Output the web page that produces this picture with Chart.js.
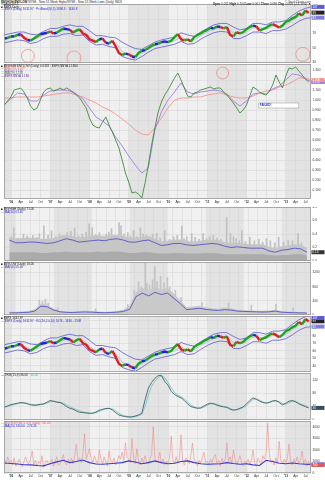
<!DOCTYPE html>
<html><head><meta charset="utf-8">
<script src="https://cdn.jsdelivr.net/npm/chart.js@4.4.1/dist/chart.umd.min.js"></script>
<style>
html,body{margin:0;padding:0;background:#fff;}
body{position:relative;width:325px;height:480px;overflow:hidden;font-family:"Liberation Sans",Arial,sans-serif;}
canvas{position:absolute;left:0;}
.t{position:absolute;font-size:3px;line-height:3px;white-space:nowrap;color:#222;z-index:5;}
.b{color:#2b2bd0}
</style></head><body>
<canvas id="c1" width="325" height="59" style="top:4px"></canvas>
<canvas id="c2" width="325" height="142" style="top:64px"></canvas>
<canvas id="c3" width="325" height="54" style="top:207px"></canvas>
<canvas id="c4" width="325" height="53" style="top:262px"></canvas>
<canvas id="c5" width="325" height="56" style="top:316px"></canvas>
<canvas id="c6" width="325" height="47" style="top:373px"></canvas>
<canvas id="c7" width="325" height="59" style="top:421px"></canvas>

<div class="t" style="left:1px;top:0.5px"><b>$NYHGH:$NYLOW</b> NYSE - New 52-Week Highs/NYSE - New 52-Week Lows (Daily) INDX</div>
<div class="t" style="left:1px;top:3.2px">30-Aug-2013</div>
<div class="t" style="left:1px;top:5.7px">■ $SPX Daily</div>
<div class="t b" style="left:1px;top:8.2px">— $SPX (Daily) 1632.97 · PctBand(50,5) 1698.3 · 1630.8</div>
<div class="t" style="right:14px;top:0.5px;color:#555">© StockCharts.com</div>
<div class="t" style="right:14px;top:3.4px"><b>Open</b> 0.021 <b>High</b> 0.104 <b>Low</b> 0.001 <b>Close</b> 0.036 <b>Chg</b> -0.005 (-14.13%) ▼</div>

<div class="t" style="left:1px;top:64.5px">■ $NYHGH:$NYLOW (Daily) 0.0328 · $SPX:$NYA 1.1800</div>
<div class="t" style="left:1px;top:67px;color:#e8776f">— MA(200) 1.200</div>
<div class="t" style="left:1px;top:69.5px;color:#9b6ce0">— MA(50) 1.180</div>
<div class="t" style="left:1px;top:72px;color:#3c8f3c">— MA(20) 1.180</div>
<div class="t" style="left:1px;top:74.5px;color:#5a2a9a">— $SPX:$NYA 1.180</div>

<div class="t" style="left:1px;top:208px">■ $NYHGH (Daily) 71.00</div>
<div class="t b" style="left:1px;top:210.5px">— MA(50) 0.130</div>
<div class="t" style="left:1px;top:263px">■ $NYLOW (Daily) 18.00</div>
<div class="t b" style="left:1px;top:265.5px">— MA(50) 55.00</div>
<div class="t" style="left:1px;top:317px">■ $SPX 1632.97</div>
<div class="t b" style="left:1px;top:319.5px">— $SPX (Daily) 1632.97 · KC(20,2.0,10) 1674 - 1636 - 1598</div>
<div class="t" style="left:1px;top:374px">— TRIX(15,9) 36.00 <span style="color:#3fb3a8">· 38.00</span></div>
<div class="t" style="left:1px;top:422px;color:#e06060">— $NYHGH:$NYLOW (Daily) 700.00</div>
<div class="t b" style="left:1px;top:424.5px">— MA(20) 740.00 · 276.33</div>

<script>
// ---------- DATA ----------
const START = 2005.83;           // Nov 2005
const tickYears = [2006,2007,2008,2009,2010,2011,2012,2013];
const yearLabels = ["'06","'07","'08","'09","'10","'11","'12","'13"];
const quarterLabels = ['Apr','Jul','Oct'];
const shadedYears = [2005,2007,2009,2011,2013];

// monthly closes (Nov 2005 .. Aug 2013)
const price = [63,64,66,66,68,69,64,61,60,63,
  66,69,70,71,73,70,71,74,77,76,
  75,71,74,76,70,68,62,60,58,62,
  63,57,56,60,52,43,40,42,41,38,
  37,43,46,47,50,53,55,56,58,59,
  58,60,65,69,62,60,62,59,65,68,
  70,73,75,78,77,80,79,77,79,68,
  66,72,70,72,76,79,81,80,74,76,
  78,81,83,81,78,81,86,88,91,93,
  98,95,102,99];
// bi-monthly price bands
const bandUpper = [68,70,72,72,69,68,73,77,77,80,82,80,80,74,67,67,65,64,58,53,49,48,53,58,61,63,65,71,68,66,72,77,82,84,84,79,75,77,84,84,82,86,86,88,95,101,105,107];
const bandMid   = [62,64,66,66,62,63,68,71,71,74,76,73,74,66,60,61,58,57,45,41,39,43,48,53,56,58,60,65,61,61,67,72,76,78,78,71,69,72,78,78,76,80,80,82,88,94,98,99];
const bandLower = [57,59,61,60,56,58,63,66,66,69,70,67,68,59,54,55,52,50,38,35,33,38,44,49,51,53,55,59,55,56,62,67,71,73,72,63,63,67,72,72,70,74,74,76,81,87,91,92];

// relative strength panel (monthly green, bi-monthly averages)
const rsGreen = [0.95,0.99,1.03,1.10,1.11,1.12,1.08,1.02,0.94,0.90,
  0.92,1.00,1.08,1.11,1.12,1.09,1.10,1.12,1.10,1.12,
  1.10,1.08,1.05,1.02,0.97,0.92,0.82,0.75,0.73,0.72,
  0.78,0.83,0.75,0.68,0.60,0.52,0.40,0.27,0.18,0.07,
  0.08,0.06,0.02,0.17,0.35,0.55,0.72,0.88,0.98,1.05,
  1.10,1.16,1.22,1.27,1.20,1.12,1.04,1.03,1.07,1.08,
  1.10,1.11,1.12,1.13,1.11,1.12,1.12,1.08,1.05,1.01,
  0.97,0.92,0.87,0.90,0.95,1.04,1.13,1.11,1.08,1.06,
  1.05,1.09,1.15,1.25,1.18,1.12,1.24,1.32,1.31,1.33,
  1.29,1.25,1.21,1.18];
const rsPurple = [0.96,1.01,1.07,1.06,0.99,0.99,1.05,1.09,1.10,1.10,
  1.09,1.06,1.01,0.92,0.83,0.79,0.74,0.63,0.54,0.44,
  0.35,0.27,0.32,0.70,0.88,1.00,1.08,1.17,1.08,1.06,
  1.08,1.09,1.10,1.09,1.06,0.99,0.94,0.99,1.06,1.07,
  1.06,1.11,1.14,1.20,1.26,1.25,1.21,1.18];
const rsSalmon = [1.02,1.02,1.03,1.03,1.03,1.03,1.04,1.05,1.06,1.07,
  1.07,1.05,1.03,1.00,0.97,0.93,0.90,0.86,0.81,0.76,
  0.70,0.66,0.65,0.72,0.82,0.92,1.00,1.02,1.02,1.03,
  1.03,1.05,1.06,1.07,1.05,1.03,1.02,1.02,1.04,1.07,
  1.09,1.10,1.13,1.15,1.18,1.22,1.22,1.20];

// new highs panel (bi-monthly)
const hiTop   = [0.36,0.33,0.34,0.35,0.34,0.33,0.33,0.34,0.37,0.39,0.37,0.35,0.36,0.37,0.38,0.37,0.38,0.39,0.37,0.35,0.35,0.36,0.37,0.33,0.29,0.30,0.32,0.32,0.30,0.29,0.30,0.31,0.32,0.31,0.28,0.26,0.27,0.26,0.25,0.25,0.25,0.21,0.19,0.22,0.23,0.25,0.24,0.19];
const hiFloor = [0.13,0.13,0.13,0.13,0.13,0.12,0.12,0.13,0.13,0.14,0.13,0.13,0.13,0.13,0.14,0.13,0.14,0.14,0.13,0.12,0.12,0.13,0.13,0.12,0.11,0.11,0.12,0.12,0.11,0.11,0.11,0.12,0.12,0.11,0.10,0.10,0.10,0.10,0.10,0.10,0.10,0.09,0.08,0.09,0.09,0.10,0.10,0.08];
const hiAvg   = [0.31,0.27,0.27,0.28,0.28,0.27,0.26,0.27,0.30,0.33,0.31,0.28,0.29,0.30,0.31,0.30,0.32,0.33,0.31,0.28,0.28,0.30,0.31,0.27,0.23,0.24,0.26,0.26,0.24,0.23,0.24,0.25,0.26,0.25,0.22,0.20,0.21,0.20,0.19,0.19,0.19,0.15,0.13,0.16,0.17,0.19,0.18,0.13];
const hiSpikeDates = [2005.88,2005.95,2006.05,2006.2,2006.3,2006.45,2006.55,2006.62,2006.74,2006.85,2006.94,
  2007.05,2007.15,2007.25,2007.35,2007.45,2007.55,2007.65,2007.75,2007.85,2007.93,
  2008.01,2008.1,2008.2,2008.28,2008.38,2008.45,2008.52,2008.6,2008.72,2008.77,2008.85,2008.95,
  2009.02,2009.1,2009.18,2009.28,2009.35,2009.43,2009.52,2009.6,2009.71,2009.8,2009.92,
  2010.05,2010.15,2010.25,2010.37,2010.43,2010.5,2010.63,2010.72,2010.82,2010.93,
  2011.02,2011.1,2011.2,2011.3,2011.4,2011.55,2011.65,2011.73,2011.8,2011.88,2011.95,
  2012.05,2012.16,2012.28,2012.4,2012.5,2012.6,2012.7,2012.82,2012.92,
  2013.05,2013.17,2013.28,2013.43,2013.52];
const hiSpikeVals  = [0.36,0.49,0.34,0.40,0.37,0.38,0.35,0.40,0.52,0.38,0.45,
  0.36,0.40,0.38,0.42,0.44,0.49,0.37,0.40,0.43,0.55,
  0.49,0.39,0.42,0.36,0.40,0.43,0.48,0.38,0.57,0.52,0.40,0.42,
  0.37,0.45,0.36,0.49,0.40,0.38,0.35,0.40,0.41,0.34,0.45,
  0.32,0.36,0.38,0.52,0.33,0.36,0.41,0.35,0.32,0.41,
  0.33,0.36,0.38,0.34,0.32,0.65,0.41,0.36,0.33,0.30,0.45,
  0.29,0.35,0.30,0.32,0.28,0.33,0.30,0.27,0.35,
  0.28,0.31,0.30,0.41,0.27];

// new lows panel (bi-monthly)
const loTop = [90,90,100,110,160,320,280,180,120,100,100,110,120,110,100,90,100,110,150,260,650,760,700,780,720,760,600,420,220,240,260,220,190,180,210,190,150,140,130,120,120,130,150,110,100,90,85,80];
const loAvg = [60,60,70,75,110,250,230,140,90,75,70,80,85,80,70,65,70,80,100,160,520,620,540,640,580,620,470,320,150,170,190,160,140,130,150,140,110,100,95,90,85,90,110,80,70,65,60,55];
const loSpikeDates = [2006.62,2006.7,2006.78,2006.85,2007.1,2008.1,2008.95,2009.12,2009.23,2009.3,2009.41,2009.45,2009.52,2009.6,2009.66,2009.72,2009.81,2009.9,2009.99,2010.05,2010.2,2010.35,2010.9,2011.6,2012.2,2012.85,2013.3];
const loSpikeVals  = [420,380,450,330,200,180,300,700,940,800,1490,900,850,1000,1370,950,1090,900,1060,800,700,500,350,330,280,300,200];

// oscillator (monthly)
const oscA = [38,42,46,48,50,52,51,48,45,44,
  45,47,48,53,58,56,53,52,47,40,
  35,32,27,23,22,21,20,20,24,29,
  32,34,35,30,22,15,12,10,9,9,
  12,15,20,60,95,112,124,132,133,115,
  104,85,76,70,66,58,48,40,37,35,
  36,42,47,50,48,44,41,39,38,32,
  29,31,35,39,48,58,66,62,56,52,
  50,53,57,58,52,45,50,56,58,54,
  48,44,40,36];
const oscB = [40,40,43,46,48,50,51,50,47,45,
  44,45,47,50,54,56,55,53,50,45,
  39,35,31,27,24,22,21,20,22,26,
  30,33,34,33,27,20,15,12,10,9,
  10,13,16,40,75,100,116,126,131,126,
  112,96,82,74,69,63,54,45,39,36,
  35,38,44,48,49,46,43,40,38,35,
  31,30,33,37,43,52,61,63,59,54,
  51,51,55,57,55,49,47,52,56,56,
  51,46,42,38];

// highs/lows ratio (semi-monthly) and its average (bi-monthly)
const ratioVals = [1200,800,1400,900,
  1100,700,1300,600,900,1200,800,500,1000,1400,900,800,1200,1900,700,1100,600,1000,800,1500,500,900,1100,700,
  900,1200,600,1000,1400,700,800,1100,1600,900,700,1200,1000,1300,800,1500,2500,1100,1300,900,1700,3400,1200,1600,
  2100,1300,900,1500,1100,700,2000,1200,800,1400,1000,600,1900,1100,900,1300,700,1000,1500,1200,1800,1100,2600,1400,
  1200,900,3000,1300,800,2100,1100,700,1300,900,1500,1000,800,1200,1600,4000,1300,900,1100,1800,800,1200,700,1000,
  900,1300,3200,1100,800,1400,900,1200,3300,1000,700,1300,1100,800,1500,2600,1200,900,600,1100,800,1300,1800,900,
  1000,700,1200,900,1400,1600,800,1100,600,1300,900,1200,2600,1000,1400,800,2000,1200,700,1100,1500,900,600,1000,
  800,1200,700,1100,2000,900,600,1300,1000,700,1500,1200,1800,4300,1500,900,1100,700,1300,900,2750,1100,800,1200,
  900,1300,2500,1000,700,1200,900,1400,800,1100,1900,800,1200,600,1000,700];
const ratioAvg = [860,820,780,720,700,650,620,800,960,1100,900,1000,1120,900,780,760,800,850,900,1050,950,800,900,1050,900,800,850,1000,1050,900,800,760,780,800,900,820,760,800,700,650,1100,1000,850,800,860,800,760,740];

// annotations (in data coordinates)
const priceCircles = [{x:2006.43,y:38.8,r:6.5},{x:2007.6,y:36,r:7},{x:2013.43,y:41,r:7}];
const rsCircles = [{x:2011.39,y:1.27,r:6}];
const rsNote = {x0:2012.31,x1:2013.33,y0:0.97,y1:0.92,text:'FAILED!'};

// ---------- HELPERS ----------
const FONT = "'Liberation Sans', Arial, sans-serif";
const X_MIN = 2005.82, X_MAX = 2013.64;
const M = 1/12, BM = 1/6, SM = 1/24;
const series = (arr, step) => arr.map((v,i)=>({x:START+i*step, y:v}));
const pairs = (d, v) => d.map((x,i)=>({x, y:v[i]}));
const isYear = v => Math.abs(v - Math.round(v)) < 0.01;

function xScale(show){
  return {type:'linear', min:X_MIN, max:X_MAX,
    afterBuildTicks(s){ const t=[]; tickYears.forEach(y=>{ for(let q=0;q<4;q++){ const v=y+q*0.25; if(v>=X_MIN&&v<=X_MAX) t.push({value:v}); } }); s.ticks=t; },
    ticks:{display:show, autoSkip:false, maxRotation:0, minRotation:0, padding:1.5, color:'#333',
      font:c=>({size:3.2, family:FONT, weight:(c.tick&&isYear(c.tick.value))?'bold':'normal'}),
      callback:v=> isYear(v) ? yearLabels[Math.round(v)-2006] : quarterLabels[Math.round((v-Math.floor(v))*4)-1]},
    grid:{color:'#d4d4d4', lineWidth:0.5, drawTicks:false}, border:{display:false},
    afterFit(s){ s.height = show?7:0; s.paddingLeft=0; s.paddingRight=0; }
  };
}

const decoPlugin = {
  id:'deco',
  beforeDraw(chart){
    const {ctx, chartArea:a, scales:{x}} = chart;
    ctx.save();
    ctx.fillStyle='#fff'; ctx.fillRect(0,0,chart.width,chart.height);
    ctx.fillStyle='#f0f0f0'; ctx.fillRect(a.left,a.top,a.right-a.left,a.bottom-a.top);
    ctx.beginPath(); ctx.rect(a.left,a.top,a.right-a.left,a.bottom-a.top); ctx.clip();
    ctx.fillStyle='#e3e3e3';
    shadedYears.forEach(yr=>{ const x0=x.getPixelForValue(yr), x1=x.getPixelForValue(yr+1); ctx.fillRect(x0,a.top,x1-x0,a.bottom-a.top); });
    ctx.restore();
  },
  afterDraw(chart, args, opts){
    const {ctx, chartArea:a, scales:{x,y}} = chart;
    ctx.save();
    ctx.strokeStyle='#9a9a9a'; ctx.lineWidth=0.8;
    ctx.strokeRect(a.left+0.4, a.top+0.4, a.right-a.left-0.8, a.bottom-a.top-0.8);
    (opts.circles||[]).forEach(c=>{
      ctx.beginPath(); ctx.arc(x.getPixelForValue(c.x), y.getPixelForValue(c.y), c.r, 0, Math.PI*2);
      ctx.strokeStyle='#ee7f7f'; ctx.lineWidth=0.7; ctx.stroke();
    });
    if(opts.box){
      const b=opts.box, x0=x.getPixelForValue(b.x0), x1=x.getPixelForValue(b.x1), y0=y.getPixelForValue(b.y0), y1=y.getPixelForValue(b.y1);
      ctx.fillStyle='#fff'; ctx.fillRect(x0,y0,x1-x0,y1-y0);
      ctx.strokeStyle='#999'; ctx.lineWidth=0.5; ctx.strokeRect(x0,y0,x1-x0,y1-y0);
      ctx.fillStyle='#2b2bd0'; ctx.font='bold 3px '+FONT; ctx.textBaseline='middle'; ctx.fillText(b.text, x0+1, (y0+y1)/2);
    }
    chart.data.datasets.forEach((ds,i)=>{
      if(!ds.tag) return;
      const meta=chart.getDatasetMeta(i); const pts=meta.data; if(!pts.length) return;
      const val = ds.data[ds.data.length-1].y;
      let py = y.getPixelForValue(val); py = Math.max(a.top+2, Math.min(a.bottom-2, py));
      ctx.fillStyle=ds.tag.bg; ctx.fillRect(a.right+0.5, py-2, 13, 4);
      ctx.fillStyle=ds.tag.fg||'#fff'; ctx.font='3px '+FONT; ctx.textBaseline='middle'; ctx.textAlign='left';
      ctx.fillText(val.toFixed(ds.tag.d||0), a.right+1.5, py+0.2);
    });
    ctx.restore();
  }
};

function make(id, datasets, o){
  return new Chart(document.getElementById(id), {
    type:'line',
    data:{datasets},
    options:{
      responsive:false, animation:false, devicePixelRatio:1,
      layout:{padding:{left:4,right:0,top:0,bottom:0}},
      plugins:{legend:{display:false}, tooltip:{enabled:false}, deco:o.deco||{}},
      elements:{point:{radius:0}, line:{tension:0, borderCapStyle:'butt'}},
      scales:{
        x: xScale(!!o.xLabels),
        y: {position:'right', min:o.ymin, max:o.ymax,
          ticks:{stepSize:o.step, includeBounds:false, font:{size:3.2,family:FONT}, color:'#333', padding:1.5, callback:v=>o.fmt(v)},
          grid:{color:'#d4d4d4', lineWidth:0.5, drawTicks:false}, border:{display:false},
          afterFit(s){ s.width=14; s.paddingTop=0; s.paddingBottom=0; }}
      }
    },
    plugins:[decoPlugin]
  });
}

const segColor = c => { const d=c.p1.parsed.y-c.p0.parsed.y; return d>1.2?'#1ea51e':(d<-1.2?'#e02020':'#2020e0'); };
function priceSets(){
  return [
    {data:series(price,M), borderWidth:2.4, segment:{borderColor:segColor}, borderColor:'#2020e0', order:0, tag:{bg:'#222'}},
    {data:series(bandUpper,BM), borderColor:'#5b5bd6', borderWidth:0.8, order:2, tag:{bg:'#5b5bd6'}},
    {data:series(bandMid,BM), borderColor:'#a3a3c6', borderWidth:0.6, order:3},
    {data:series(bandLower,BM), borderColor:'#5b5bd6', borderWidth:0.8, order:2, tag:{bg:'#7f7fe0'}}
  ];
}

// P1 price
make('c1', priceSets(), {ymin:29, ymax:111, step:10, fmt:v=>v.toFixed(0), deco:{circles:priceCircles}});
// P2 relative strength
make('c2', [
  {data:series(rsGreen,M), borderColor:'#3c8f3c', borderWidth:0.9, order:0, tag:{bg:'#3c8f3c',d:3}},
  {data:series(rsPurple,BM), borderColor:'#a77be8', borderWidth:0.9, order:1, tag:{bg:'#a77be8',d:3}},
  {data:series(rsSalmon,BM), borderColor:'#f3958f', borderWidth:0.9, order:2, tag:{bg:'#f3958f',d:3}}
], {ymin:0.01, ymax:1.36, step:0.1, fmt:v=>v.toFixed(3), xLabels:true, deco:{circles:rsCircles, box:rsNote}});
// P3 new highs
make('c3', [
  {data:series(hiAvg,BM), borderColor:'#4646c8', borderWidth:0.8, order:0, tag:{bg:'#333',d:2}},
  {type:'bar', data:pairs(hiSpikeDates,hiSpikeVals), backgroundColor:'#c0c0c0', barThickness:1, order:9},
  {data:series(hiTop,BM), borderWidth:0, fill:'origin', backgroundColor:'#c6c6c6', order:8},
  {data:series(hiFloor,BM), borderWidth:0, fill:'origin', backgroundColor:'#ababab', order:7}
], {ymin:0, ymax:0.8, step:0.1, fmt:v=>v.toFixed(1)});
// P4 new lows
make('c4', [
  {data:series(loAvg,BM), borderColor:'#4646c8', borderWidth:0.8, order:0},
  {type:'bar', data:pairs(loSpikeDates,loSpikeVals), backgroundColor:'#c4c4c4', barThickness:1, order:9},
  {data:series(loTop,BM), borderWidth:0, fill:'origin', backgroundColor:'#c9c9c9', order:8}
], {ymin:0, ymax:1500, step:200, fmt:v=>v.toFixed(0)});
// P5 price again
make('c5', priceSets(), {ymin:32, ymax:106, step:10, fmt:v=>v.toFixed(0)});
// P6 oscillator
make('c6', [
  {data:series(oscA,M), borderColor:'#34505e', borderWidth:0.8, order:0, tag:{bg:'#34505e'}},
  {data:series(oscB,M), borderColor:'#62c6bd', borderWidth:0.8, order:1}
], {ymin:0, ymax:140, step:20, fmt:v=>v.toFixed(0)});
// P7 ratio
make('c7', [
  {data:series(ratioAvg,BM), borderColor:'#3a3ad0', borderWidth:1.1, order:0, tag:{bg:'#3a3ad0'}},
  {data:series(ratioVals,SM), borderColor:'#f28b8b', borderWidth:0.6, order:1, tag:{bg:'#e05a5a'}}
], {ymin:0, ymax:4500, step:500, fmt:v=>v.toFixed(0), xLabels:true});
</script>
</body></html>
